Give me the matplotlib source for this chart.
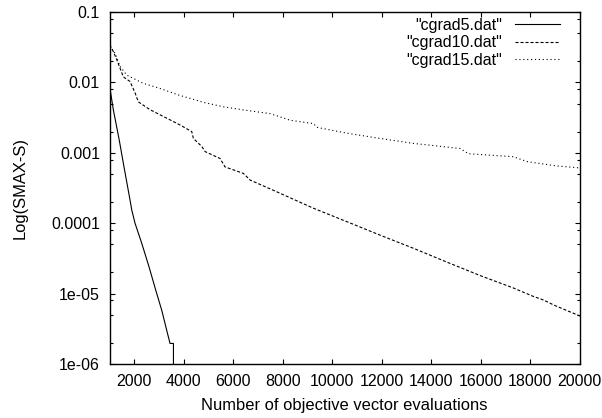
import matplotlib
matplotlib.use("Agg")
import matplotlib.pyplot as plt
from matplotlib.ticker import LogLocator, FixedLocator, NullFormatter

plt.rcParams['font.family'] = ['Liberation Sans', 'DejaVu Sans']
plt.rcParams['lines.scale_dashes'] = False

# ---- data ----
x5 = [1000, 1020, 1150, 1392, 1582, 1825, 1894, 2027, 2298, 2593, 2864, 3107, 3309, 3442, 3580, 3580]
y5 = [0.0092, 0.0080, 0.0041, 0.0015, 6.3e-4, 2.14e-4, 1.55e-4, 1.0e-4, 5.2e-5, 2.4e-5,
      1.12e-5, 5.8e-6, 3.0e-6, 1.96e-6, 1.96e-6, 5e-7]

x10 = [1000, 1100, 1290, 1555, 1825, 2030, 2160, 2630, 3310, 3850, 4320, 4385, 4725, 4860,
       5465, 5665, 6405, 6680, 7890, 9240, 10590, 12100, 13280, 14630, 15980, 17320,
       18130, 18540, 18940, 19350, 19890, 20000]
y10 = [0.034, 0.030, 0.021, 0.012, 0.0103, 0.0071, 0.0053, 0.0041, 0.0031, 0.00248, 0.0020,
       0.0016, 0.00123, 0.00104, 0.00083, 0.00063, 0.00051, 0.00041, 0.000266, 0.000163,
       0.000105, 6.4e-5, 4.4e-5, 2.8e-5, 1.8e-5, 1.2e-5, 9.1e-6, 8.1e-6, 6.9e-6, 6.0e-6,
       5.0e-6, 4.8e-6]

x15 = [1000, 1020, 1220, 1420, 1690, 2360, 3040, 3800, 4800, 5600, 6545, 7490, 8300, 9240,
       9375, 10590, 11930, 13280, 15170, 15500, 17320, 17870, 19080, 20000]
y15 = [0.033, 0.032, 0.026, 0.017, 0.0127, 0.0097, 0.0082, 0.0066, 0.0052, 0.0045, 0.0040,
       0.0036, 0.0029, 0.0026, 0.0023, 0.0019, 0.0016, 0.00136, 0.00115, 0.00097, 0.00088,
       0.00075, 0.00065, 0.00061]

labels = ['"cgrad5.dat"', '"cgrad10.dat"', '"cgrad15.dat"']
xticks = [2000, 4000, 6000, 8000, 10000, 12000, 14000, 16000, 18000, 20000]
yticks = [1e-6, 1e-5, 1e-4, 1e-3, 1e-2, 1e-1]
yticklabels = ['1e-06', '1e-05', '0.0001', '0.001', '0.01', '0.1']

fig = plt.figure(figsize=(6.02, 4.18), dpi=100)
ax = fig.add_axes([109.6/602, 1-364/418, (579.8-109.6)/602, (364-12)/418])

lw = 0.8
ax.plot(x5, y5, color='black', lw=lw, linestyle='-', label=labels[0])
ax.plot(x10, y10, color='black', lw=lw, linestyle=(0, (2.2, 1.4)), label=labels[1])
ax.plot(x15, y15, color='black', lw=lw, linestyle=(0, (0.8, 2.0)), label=labels[2])

ax.set_yscale('log')
ax.set_xlim(1000, 20000)
ax.set_ylim(1e-6, 0.1)
ax.xaxis.set_major_locator(FixedLocator(xticks))
ax.set_xticklabels([str(t) for t in xticks])
ax.yaxis.set_major_locator(FixedLocator(yticks))
ax.set_yticklabels(yticklabels)
ax.yaxis.set_minor_locator(LogLocator(base=10, subs=(2, 5, 8), numticks=20))
ax.yaxis.set_minor_formatter(NullFormatter())

fs = 11.5
ax.tick_params(axis='both', which='major', direction='in', length=3.8, width=0.8,
               top=True, right=True, labelsize=fs, pad=7)
ax.tick_params(axis='y', which='minor', direction='in', length=2.0, width=0.8,
               left=True, right=True)
for s in ax.spines.values():
    s.set_linewidth(1.0)

ax.set_xlabel('Number of objective vector evaluations', fontsize=11.9)
ax.set_ylabel('Log(SMAX-S)', fontsize=11.9)
ax.xaxis.set_label_coords(0.5, -0.098)
ax.yaxis.set_label_coords(-0.175, 0.5)

leg = ax.legend(loc='upper right', frameon=False, markerfirst=False, fontsize=fs,
                handlelength=2.8, handletextpad=0.8, borderpad=0.0, borderaxespad=0.0,
                labelspacing=0.15, bbox_to_anchor=(1 - 20/470.2, 1 - 6/352))
for t in leg.get_texts():
    t.set_ha('right')

fig.savefig('out.png', dpi=100)
